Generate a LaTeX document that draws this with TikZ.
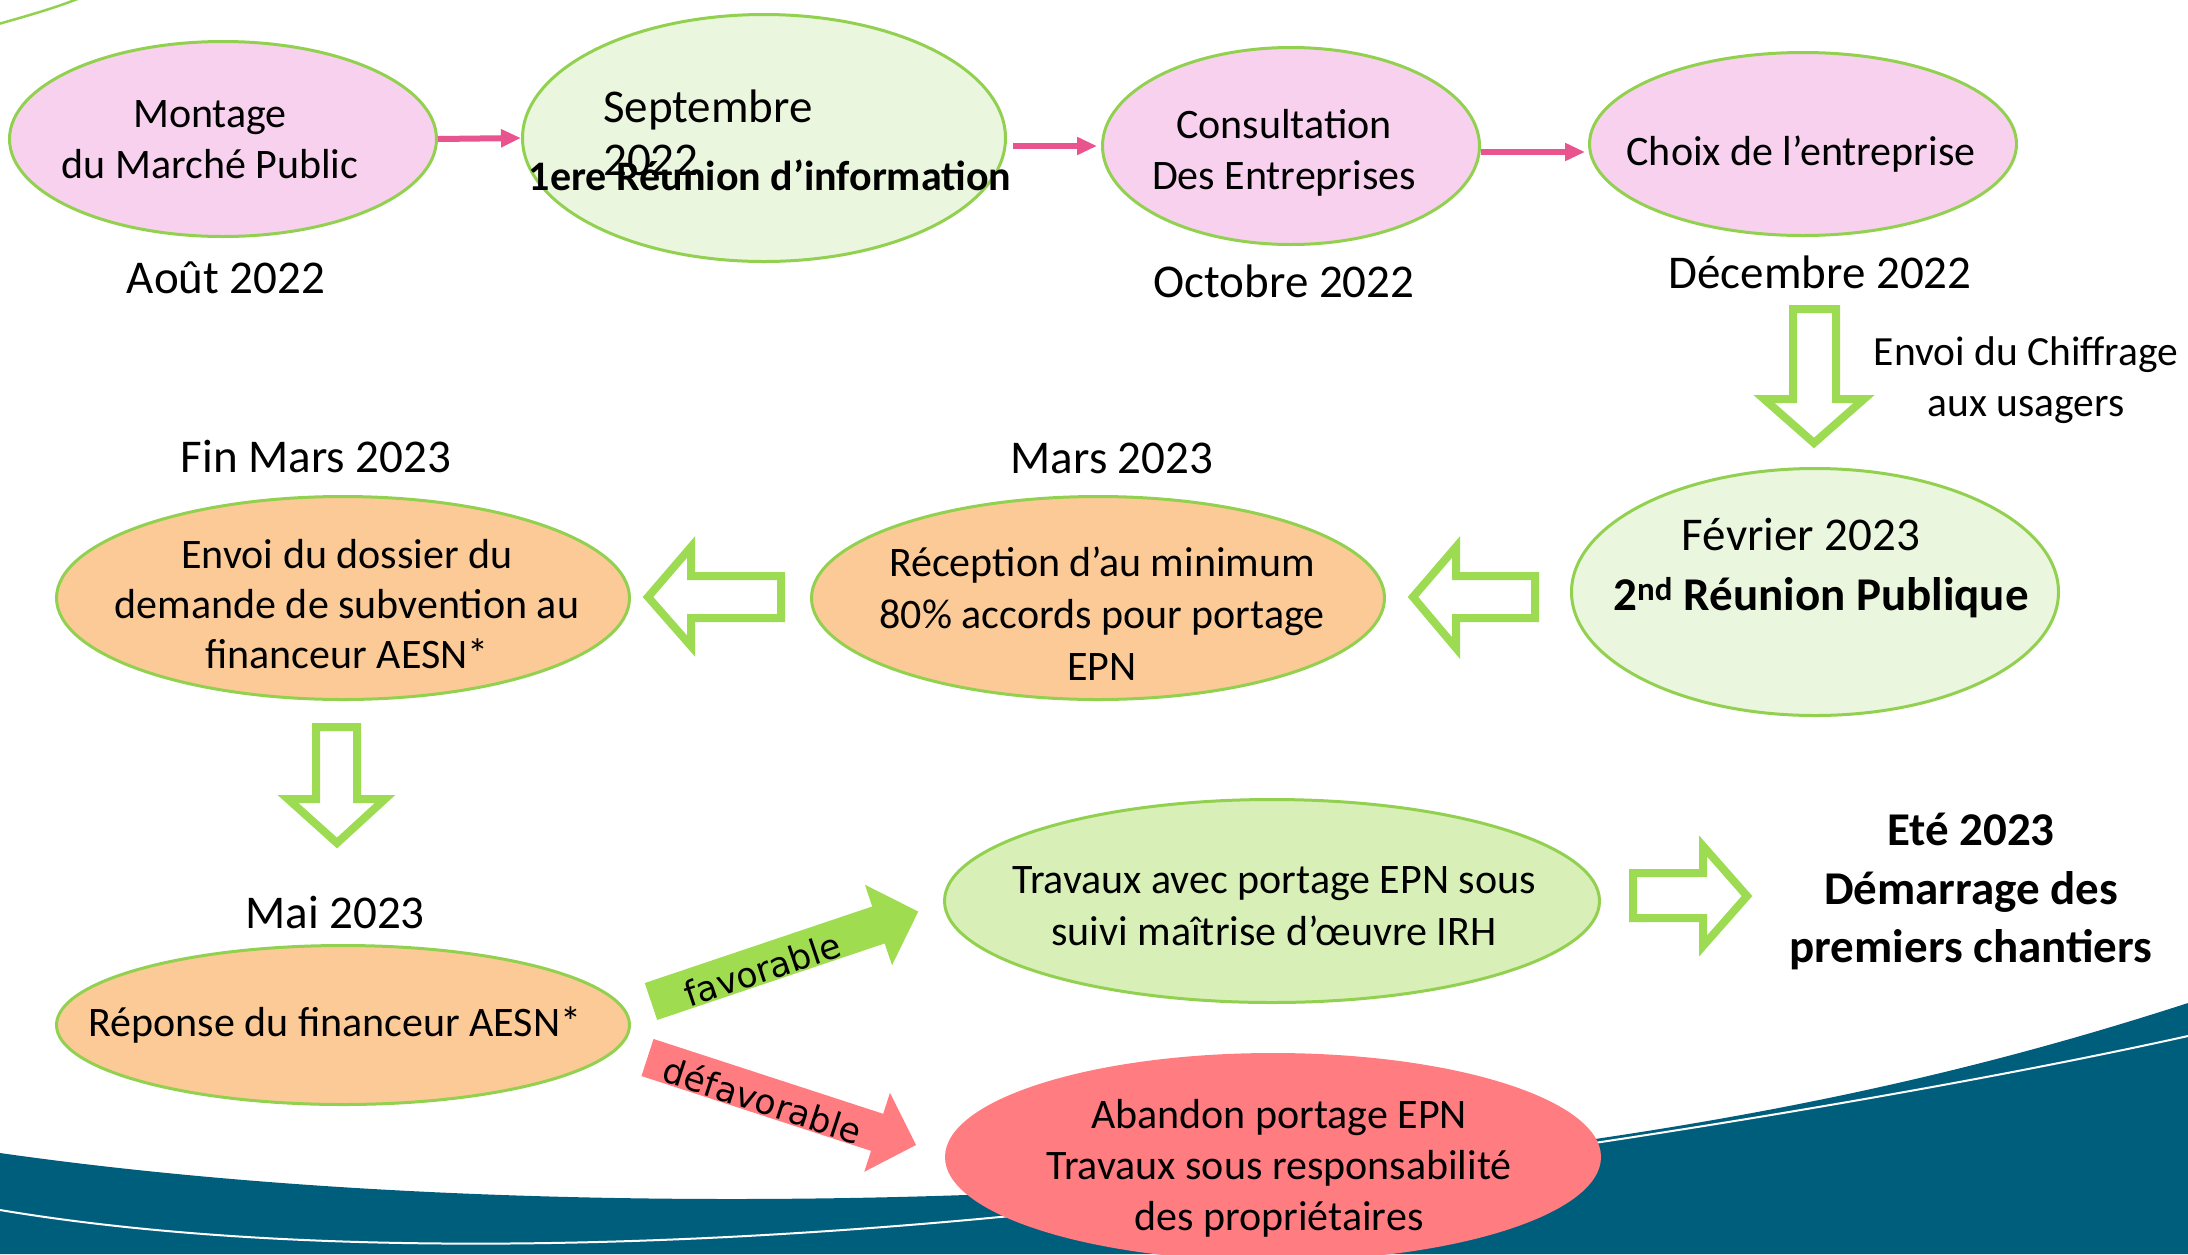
\documentclass[tikz,border=0pt]{standalone}
\usepackage{fontspec}
\setmainfont{Carlito}
\newfontfamily\dejavu{DejaVu Sans}
\usetikzlibrary{shapes.geometric,arrows.meta}
\definecolor{pinkfill}{HTML}{F8D1EF}
\definecolor{lgreen}{HTML}{EAF6DD}
\definecolor{orangefill}{HTML}{FCCA96}
\definecolor{tgreen}{HTML}{D8F0B7}
\definecolor{redfill}{HTML}{FF7C80}
\definecolor{ellgreen}{HTML}{92D050}
\definecolor{hgreen}{HTML}{9CDB52}
\definecolor{favgreen}{HTML}{9FDC50}
\definecolor{pinkarrow}{HTML}{E9548E}
\definecolor{wavecol}{HTML}{005E7D}
\newcommand\strA{\rule[-10pt]{0pt}{47pt}}
\newcommand\strB{\rule[-12pt]{0pt}{54pt}}
\lineskiplimit=-200pt
\begin{document}
\begin{tikzpicture}[x=1pt,y=-1pt,
  ell/.style={shape=ellipse, draw=ellgreen, line width=3pt, inner sep=0pt},
  txt/.style={font=\fontsize{42}{51}\selectfont, align=center, inner sep=0pt},
  datetxt/.style={font=\fontsize{47}{53}\selectfont, align=center, inner sep=0pt},
  boldtxt/.style={font=\fontsize{47}{58.5}\selectfont\bfseries, align=center, inner sep=0pt},
  hollow/.style={draw=hgreen, line width=8pt, line join=miter},
  pinkarr/.style={draw=pinkarrow, line width=6pt, -{Triangle[length=20pt,width=17pt]}},
  arrowtxt/.style={font=\dejavu\fontsize{34.5}{40}\selectfont, inner sep=0pt}]
\useasboundingbox (0,0) rectangle (2188,1254);
% background wave
\fill[wavecol] (0,1153) .. controls (400,1210) and (900,1210) .. (1300,1175)
  .. controls (1700,1135) and (1950,1080) .. (2188,1003) -- (2188,1254) -- (0,1254) -- cycle;
\draw[white, line width=2pt] (0,1210) .. controls (250,1252) and (600,1255) .. (1000,1217)
  .. controls (1400,1180) and (1900,1100) .. (2188,1036);
\draw[draw=ellgreen, line width=2.5pt] (-5,25) .. controls (30,15) and (55,8) .. (80,-2);
% ellipses
\node[ell, fill=pinkfill, minimum width=427pt, minimum height=195pt] (e1) at (223,139) {};
\node[ell, fill=lgreen, minimum width=483pt, minimum height=247pt] (e2) at (764,138) {};
\node[ell, fill=pinkfill, minimum width=377pt, minimum height=197pt] (e3) at (1291,146) {};
\node[ell, fill=pinkfill, minimum width=427pt, minimum height=183pt] (e4) at (1803,144) {};
\node[ell, fill=orangefill, minimum width=573pt, minimum height=203pt] (e5) at (343,598) {};
\node[ell, fill=orangefill, minimum width=573pt, minimum height=203pt] (e6) at (1098,598) {};
\node[ell, fill=lgreen, minimum width=487pt, minimum height=247pt] (e7) at (1815,592) {};
\node[ell, fill=orangefill, minimum width=573pt, minimum height=159pt] (e8) at (343,1025) {};
\node[ell, fill=tgreen, minimum width=655pt, minimum height=203pt] (e9) at (1272,901) {};
\node[ell, draw=none, fill=redfill, minimum width=656pt, minimum height=208pt] (e10) at (1273,1157) {};
% pink arrows
\draw[pinkarr] (e1.east) -- (e2.west);
\draw[pinkarr, shorten <=6pt, shorten >=4pt] (e3.west -| e2.east) -- (e3.west);
\draw[pinkarr, shorten >=3pt] ([yshift=-6pt]e3.east) -- ([yshift=-6pt]e3.east -| e4.west);
% hollow arrows
\draw[hollow] (1793,309) -- (1836,309) -- (1836,399) -- (1864,399) -- (1814,443) -- (1764,399) -- (1793,399) -- cycle;
\draw[hollow] (316,727) -- (357,727) -- (357,799) -- (385,799) -- (337,843) -- (288,799) -- (316,799) -- cycle;
\draw[hollow] (781,576) -- (781,618) -- (691,618) -- (691,646) -- (648,597) -- (691,547) -- (691,576) -- cycle;
\draw[hollow] (1535,576) -- (1535,618) -- (1456,618) -- (1456,648) -- (1413,597) -- (1456,547) -- (1456,576) -- cycle;
\draw[hollow] (1633,873) -- (1703,873) -- (1703,846) -- (1747,896) -- (1703,946) -- (1703,918) -- (1633,918) -- cycle;
% favorable / defavorable
\begin{scope}[shift={(651,1001.5)}, rotate=18.6]
\fill[favgreen] (0,-19.5) -- (240,-19.5) -- (240,-42.5) -- (282,0) -- (240,42.5) -- (240,19.5) -- (0,19.5) -- cycle;
\node[arrowtxt, rotate=18.6] (fav) at (116,5) {favorable};
\end{scope}
\begin{scope}[shift={(647.5,1057.5)}, rotate=-18.05]
\fill[redfill] (0,-19.5) -- (241.5,-19.5) -- (241.5,-41.5) -- (282.4,0) -- (241.5,41.5) -- (241.5,19.5) -- (0,19.5) -- cycle;
\node[arrowtxt, rotate=-18.05] (defav) at (123,4.6) {défavorable};
\end{scope}
% texts
\node[txt] (t1) at (210,139) {\strA Montage\\\strA du Marché Public};
\node[datetxt] (d1) at (226,278) {\strB Août 2022};
\node[datetxt, align=left, anchor=west] (t2a) at (603,133.5) {\strB Septembre\\\strB 2022};
\node[txt, font=\fontsize{42}{51}\selectfont\bfseries] (t2b) at (770,177) {\strA 1ere Réunion d’information};
\node[txt] (t3) at (1284,150) {\strA Consultation\\\strA Des Entreprises};
\node[datetxt] (d3) at (1284,282) {\strB Octobre 2022};
\node[txt] (t4) at (1801,152) {\strA Choix de l’entreprise};
\node[datetxt] (d4) at (1820,273) {\strB Décembre 2022};
\node[txt, font=\fontsize{41.5}{51}\selectfont] (c1) at (2026,377.5) {\strA Envoi du Chiffrage\\\strA aux usagers};
\node[datetxt] (d5) at (316,457) {\strB Fin Mars 2023};
\node[txt, font=\fontsize{42}{50}\selectfont] (t5) at (347,605) {\strA Envoi du dossier du\\\strA demande de subvention au\\\strA financeur AESN*};
\node[datetxt] (d6) at (1112,458) {\strB Mars 2023};
\node[txt, font=\fontsize{42}{52}\selectfont] (t6) at (1102,615) {\strA Réception d’au minimum\\\strA 80\% accords pour portage\\\strA EPN};
\node[datetxt] (t7a) at (1801,535) {\strB Février 2023};
\node[boldtxt] (t7b) at (1821,595) {\strB 2\textsuperscript{nd} Réunion Publique};
\node[datetxt] (d8) at (335,913) {\strB Mai 2023};
\node[txt] (t8) at (335,1023) {\strA Réponse du financeur AESN*};
\node[txt, font=\fontsize{42}{52}\selectfont] (t9) at (1274,906) {\strA Travaux avec portage EPN sous\\\strA suivi maîtrise d’œuvre IRH};
\node[txt] (t10) at (1279,1166) {\strA Abandon portage EPN\\\strA Travaux sous responsabilité\\\strA des propriétaires};
\node[boldtxt] (ete) at (1971,889) {\strB Eté 2023\\\strB Démarrage des\\\strB premiers chantiers};
\end{tikzpicture}
\end{document}
